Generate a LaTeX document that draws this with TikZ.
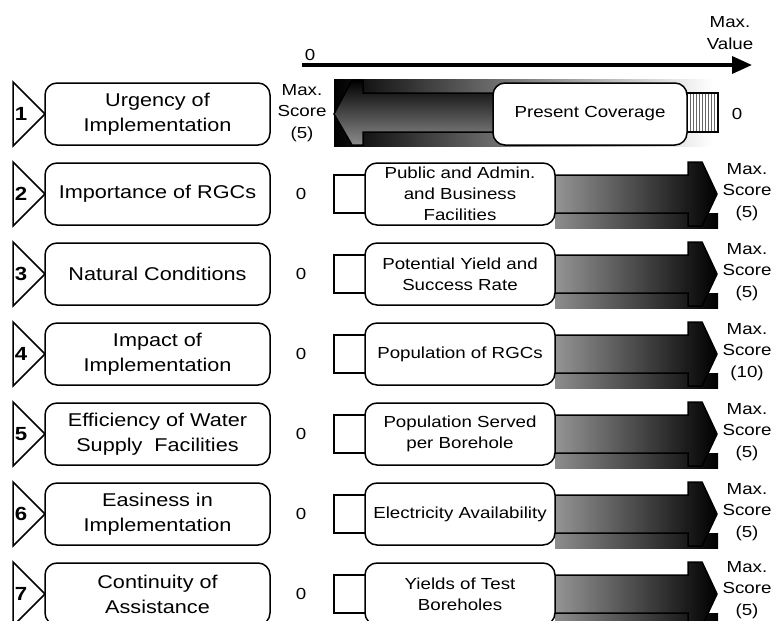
\documentclass[tikz,border=0pt]{standalone}
\usepackage{fontspec}
\setmainfont{Liberation Sans}[FakeStretch=1.17]
\usepackage{tikz}
\usetikzlibrary{arrows.meta,patterns}
\tikzset{
  numtri/.style={draw, line width=1.5pt, fill=white},
  numlabel/.style={font=\fontsize{19}{20}\selectfont\bfseries},
  critbox/.style={draw, line width=1.5pt, rounded corners=12pt, fill=white, minimum width=225pt, minimum height=62pt, inner sep=0pt, align=center, font=\fontsize{18.5}{25}\selectfont},
  factorbox/.style={draw, line width=1.5pt, rounded corners=12pt, fill=white, minimum width=190pt, minimum height=62pt, inner sep=0pt, align=center, font=\fontsize{16}{21}\selectfont},
  scorelabel/.style={align=center, font=\fontsize{16}{21.5}\selectfont},
  smallbox/.style={draw, line width=1.5pt, fill=white},
  arrowbody/.style={draw, line width=1.5pt, left color=black!40, right color=black},
  topband/.style={left color=white, middle color=black!30, right color=white},
  lowband/.style={left color=black!45, right color=black},
}

\begin{document}
\begin{tikzpicture}[x=1pt, y=-1pt]
         \useasboundingbox (0,0) rectangle (774,621);

         % value axis
         \coordinate (AL) at (302,65);
         \coordinate (AR) at (752,65);
         \draw[-{Triangle[length=20pt,width=17pt]}, line width=3.5pt] (AL) -- (AR);
         \node[scorelabel] (zero) at (310,55) {0};
         \node[scorelabel] (maxval) at (730,33) {Max.\\Value};

         % row 1
         \draw[numtri] (13,82) -- (45,114) -- (13,146) -- cycle;
         \node[numlabel] (n1) at (21,114) {1};
         \node[critbox] (c1) at (157.5,114) {Urgency of\\Implementation};
         \node[scorelabel] (s1) at (302,113) {Max.\\Score\\(5)};
         \shade[left color=black, right color=white] (334,79) rectangle (713,146);
         \draw[line width=1.5pt, top color=black, bottom color=black!45] (334,114) -- (352,80) -- (363,80) -- (363,93) -- (500,93) -- (500,132) -- (363,132) -- (363,145) -- (352,145) -- cycle;
         \draw[line width=1.2pt, preaction={fill=white}, pattern=vertical lines, pattern color=black!60] (685,93) rectangle (718,132);
         \node[factorbox, minimum width=194pt] (f1) at (590,114) {Present Coverage};
         \node[scorelabel] (m1) at (737,114) {0};

         % row 2
         \draw[numtri] (13,162) -- (45,194) -- (13,226) -- cycle;
         \node[numlabel] (n2) at (21,194) {2};
         \node[critbox] (c2) at (157.5,194) {Importance of RGCs};
         \node[scorelabel] (s2) at (301,194) {0};
         \shade[topband] (555,160) rectangle (720,175);
         \shade[lowband] (555,213) rectangle (718,228);
         \draw[arrowbody] (550,175) -- (688,175) -- (688,162) -- (702,162) -- (717,194) -- (702,226) -- (688,226) -- (688,213) -- (550,213) -- cycle;
         \draw[smallbox] (334,175) rectangle (368,213);
         \node[factorbox] (f2) at (460,194) {Public and Admin.\\and Business\\Facilities};
         \node[scorelabel] (m2) at (747,192) {Max.\\Score\\(5)};

         % row 3
         \draw[numtri] (13,242) -- (45,274) -- (13,306) -- cycle;
         \node[numlabel] (n3) at (21,274) {3};
         \node[critbox] (c3) at (157.5,274) {Natural Conditions};
         \node[scorelabel] (s3) at (301,274) {0};
         \shade[topband] (555,240) rectangle (720,255);
         \shade[lowband] (555,293) rectangle (718,308);
         \draw[arrowbody] (550,255) -- (688,255) -- (688,242) -- (702,242) -- (717,274) -- (702,306) -- (688,306) -- (688,293) -- (550,293) -- cycle;
         \draw[smallbox] (334,255) rectangle (368,293);
         \node[factorbox] (f3) at (460,274) {Potential Yield and\\Success Rate};
         \node[scorelabel] (m3) at (747,272) {Max.\\Score\\(5)};

         % row 4
         \draw[numtri] (13,322) -- (45,354) -- (13,386) -- cycle;
         \node[numlabel] (n4) at (21,354) {4};
         \node[critbox] (c4) at (157.5,354) {Impact of\\Implementation};
         \node[scorelabel] (s4) at (301,354) {0};
         \shade[topband] (555,320) rectangle (720,335);
         \shade[lowband] (555,373) rectangle (718,388);
         \draw[arrowbody] (550,335) -- (688,335) -- (688,322) -- (702,322) -- (717,354) -- (702,386) -- (688,386) -- (688,373) -- (550,373) -- cycle;
         \draw[smallbox] (334,335) rectangle (368,373);
         \node[factorbox] (f4) at (460,354) {Population of RGCs};
         \node[scorelabel] (m4) at (747,352) {Max.\\Score\\(10)};

         % row 5
         \draw[numtri] (13,402) -- (45,434) -- (13,466) -- cycle;
         \node[numlabel] (n5) at (21,434) {5};
         \node[critbox] (c5) at (157.5,434) {Efficiency of Water\\Supply\ \ Facilities};
         \node[scorelabel] (s5) at (301,434) {0};
         \shade[topband] (555,400) rectangle (720,415);
         \shade[lowband] (555,453) rectangle (718,468);
         \draw[arrowbody] (550,415) -- (688,415) -- (688,402) -- (702,402) -- (717,434) -- (702,466) -- (688,466) -- (688,453) -- (550,453) -- cycle;
         \draw[smallbox] (334,415) rectangle (368,453);
         \node[factorbox] (f5) at (460,434) {Population Served\\per Borehole};
         \node[scorelabel] (m5) at (747,432) {Max.\\Score\\(5)};

         % row 6
         \draw[numtri] (13,482) -- (45,514) -- (13,546) -- cycle;
         \node[numlabel] (n6) at (21,514) {6};
         \node[critbox] (c6) at (157.5,514) {Easiness in\\Implementation};
         \node[scorelabel] (s6) at (301,514) {0};
         \shade[topband] (555,480) rectangle (720,495);
         \shade[lowband] (555,533) rectangle (718,548);
         \draw[arrowbody] (550,495) -- (688,495) -- (688,482) -- (702,482) -- (717,514) -- (702,546) -- (688,546) -- (688,533) -- (550,533) -- cycle;
         \draw[smallbox] (334,495) rectangle (368,533);
         \node[factorbox] (f6) at (460,514) {Electricity Availability};
         \node[scorelabel] (m6) at (747,512) {Max.\\Score\\(5)};

         % row 7
         \draw[numtri] (13,562) -- (45,594) -- (13,626) -- cycle;
         \node[numlabel] (n7) at (21,594) {7};
         \node[critbox] (c7) at (157.5,594) {Continuity of\\Assistance};
         \node[scorelabel] (s7) at (301,594) {0};
         \shade[topband] (555,560) rectangle (720,575);
         \shade[lowband] (555,613) rectangle (718,628);
         \draw[arrowbody] (550,575) -- (688,575) -- (688,562) -- (702,562) -- (717,594) -- (702,626) -- (688,626) -- (688,613) -- (550,613) -- cycle;
         \draw[smallbox] (334,575) rectangle (368,613);
         \node[factorbox] (f7) at (460,594) {Yields of Test\\Boreholes};
         \node[scorelabel] (m7) at (747,590) {Max.\\Score\\(5)};
      \end{tikzpicture}
\end{document}
